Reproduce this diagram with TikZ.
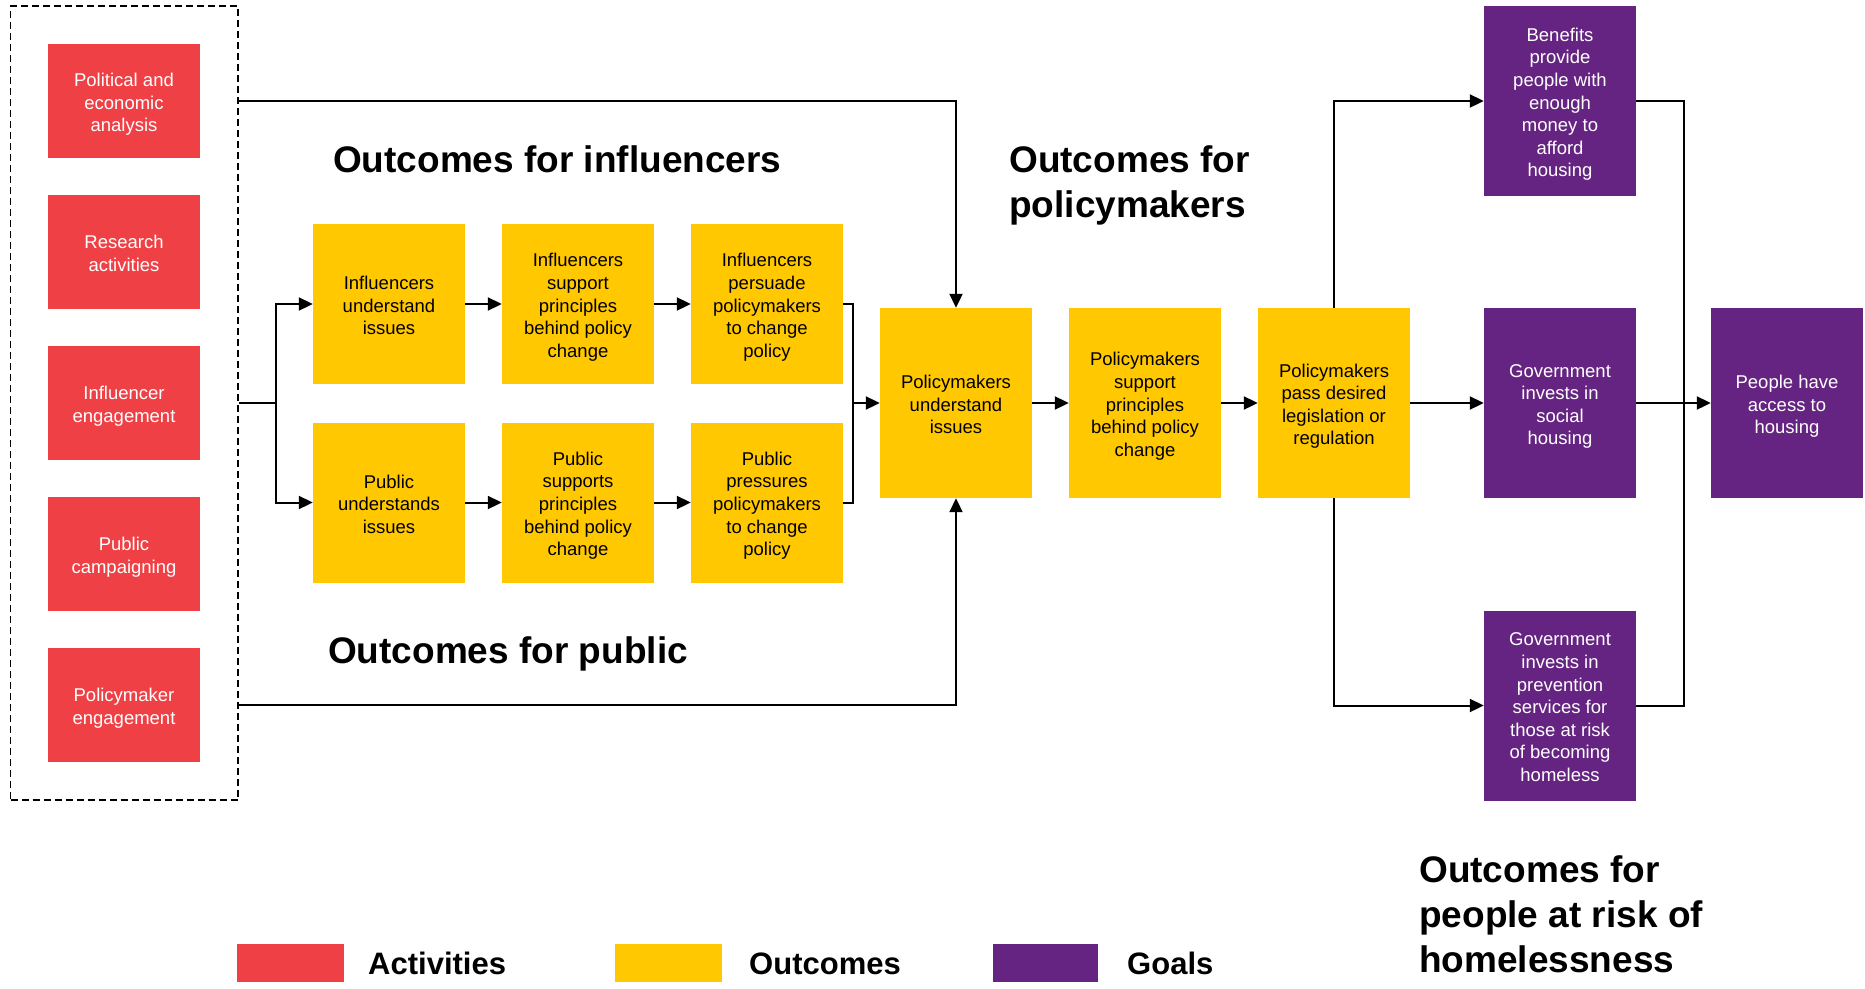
\documentclass[tikz,border=0pt]{standalone}
\usepackage{fontspec}
\setmainfont{Liberation Sans}
\usetikzlibrary{arrows.meta}
\definecolor{actred}{RGB}{239,65,69}
\definecolor{outyel}{RGB}{255,200,0}
\definecolor{goalpur}{RGB}{102,36,130}
\newcommand\topstr{\rule{0pt}{20pt}}
\newcommand\botstr{\rule[-3.7pt]{0pt}{3.7pt}}
\tikzset{
  boxtxt/.style={font=\fontsize{18.5pt}{22.6pt}\selectfont, align=center, inner sep=0pt, minimum width=152pt},
  actbox/.style={boxtxt, fill=actred, text=white, minimum height=114pt},
  outbox/.style={boxtxt, fill=outyel, text=black, minimum height=160pt},
  bigout/.style={boxtxt, fill=outyel, text=black, minimum height=190pt},
  goalbox/.style={boxtxt, fill=goalpur, text=white, minimum height=190pt},
  conn/.style={line width=2pt, black},
  arr/.style={conn, -{Triangle[length=14pt,width=13pt]}},
  title/.style={font=\fontsize{37pt}{45pt}\selectfont\bfseries, inner sep=0pt, align=left},
  legtxt/.style={font=\fontsize{31pt}{36pt}\selectfont\bfseries, inner sep=0pt, anchor=base west},
}
\begin{document}
\begin{tikzpicture}[x=1pt,y=-1pt]
\useasboundingbox (0,0) rectangle (1865,988);
% activities
\node[draw, dashed, dash pattern=on 7pt off 4pt, line width=1.6pt, minimum width=227.5pt, minimum height=794pt, inner sep=0pt] (act) at (124.25,403) {};
\node[actbox] (r1) at (124,101) {\topstr Political and\\economic\\analysis\botstr};
\node[actbox] (r2) at (124,252) {\topstr Research\\activities\botstr};
\node[actbox] (r3) at (124,403) {\topstr Influencer\\engagement\botstr};
\node[actbox] (r4) at (124,554) {\topstr Public\\campaigning\botstr};
\node[actbox] (r5) at (124,705) {\topstr Policymaker\\engagement\botstr};
% influencer / public outcomes
\node[outbox] (ia) at (389,304) {\topstr Influencers\\understand\\issues\botstr};
\node[outbox] (ib) at (578,304) {\topstr Influencers\\support\\principles\\behind policy\\change\botstr};
\node[outbox] (ic) at (767,304) {\topstr Influencers\\persuade\\policymakers\\to change\\policy\botstr};
\node[outbox] (pa) at (389,502.5) {\topstr Public\\understands\\issues\botstr};
\node[outbox] (pb) at (578,502.5) {\topstr Public\\supports\\principles\\behind policy\\change\botstr};
\node[outbox] (pc) at (767,502.5) {\topstr Public\\pressures\\policymakers\\to change\\policy\botstr};
% policymakers
\node[bigout] (pu) at (956,403) {\topstr Policymakers\\understand\\issues\botstr};
\node[bigout] (ps) at (1145,403) {\topstr Policymakers\\support\\principles\\behind policy\\change\botstr};
\node[bigout] (pp) at (1334,403) {\topstr Policymakers\\pass desired\\legislation or\\regulation\botstr};
% goals
\node[goalbox] (ben) at (1560,101) {\topstr Benefits\\provide\\people with\\enough\\money to\\afford\\housing\botstr};
\node[goalbox] (soc) at (1560,403) {\topstr Government\\invests in\\social\\housing\botstr};
\node[goalbox] (prev) at (1560,705.5) {\topstr Government\\invests in\\prevention\\services for\\those at risk\\of becoming\\homeless\botstr};
\node[goalbox] (acc) at (1787,403) {\topstr People have\\access to\\housing\botstr};
% titles
\node[title, anchor=north west] (t1) at (333,145) {Outcomes for influencers};
\node[title, anchor=north west] (t2) at (1009,145.5) {Outcomes for\\policymakers};
\node[title, anchor=north west] (t3) at (328,636) {Outcomes for public};
\node[title, anchor=north west] (t4) at (1419,855) {Outcomes for\\people at risk of\\homelessness};
% legend
\node[fill=actred, minimum width=107pt, minimum height=38pt, inner sep=0pt] (l1) at (290.5,963) {};
\node[legtxt] (l1t) at (368,974) {Activities};
\node[fill=outyel, minimum width=107pt, minimum height=38pt, inner sep=0pt] (l2) at (668.5,963) {};
\node[legtxt] (l2t) at (749,974) {Outcomes};
\node[fill=goalpur, minimum width=105pt, minimum height=38pt, inner sep=0pt] (l3) at (1045.5,963) {};
\node[legtxt] (l3t) at (1127,974) {Goals};
% connectors
\coordinate (split) at (275.5,403);
\coordinate (merge) at (853,403);
\coordinate (join) at (1684,403);
\draw[arr] (act.east |- r1) -| (pu.north);
\draw[arr] (act.east |- r5) -| (pu.south);
\draw[conn] (act.east |- r3) -- (split);
\draw[arr] (split) |- (ia.west);
\draw[arr] (split) |- (pa.west);
\draw[arr] (ia) -- (ib);
\draw[arr] (ib) -- (ic);
\draw[arr] (pa) -- (pb);
\draw[arr] (pb) -- (pc);
\draw[conn] (ic.east) -| (merge);
\draw[conn] (pc.east) -| (merge);
\draw[arr] (merge) -- (pu.west);
\draw[arr] (pu) -- (ps);
\draw[arr] (ps) -- (pp);
\draw[arr] (pp.north) |- (ben.west);
\draw[arr] (pp) -- (soc);
\draw[arr] (pp.south) |- (prev.west);
\draw[conn] (ben.east) -| (join);
\draw[conn] (prev.east) -| (join);
\draw[arr] (soc) -- (acc);
\end{tikzpicture}
\end{document}
